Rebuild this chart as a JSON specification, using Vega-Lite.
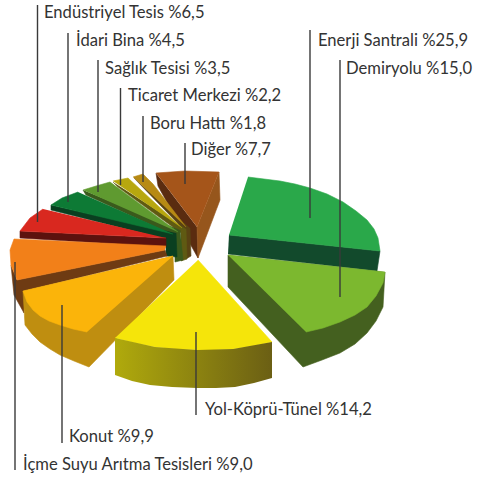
{"$schema":"https://vega.github.io/schema/vega-lite/v6.json","width":479,"height":481,"padding":0,"autosize":{"type":"none"},"background":"white","config":{"view":{"stroke":null}},
"datasets":{
"outline":[
{"p":"01 Diğer yan sol","o":1,"x":156,"y":173},{"p":"01 Diğer yan sol","o":2,"x":158,"y":186},{"p":"01 Diğer yan sol","o":3,"x":198,"y":258},{"p":"01 Diğer yan sol","o":4,"x":197,"y":227},
{"p":"02 Diğer yan sağ","o":1,"x":219,"y":172},{"p":"02 Diğer yan sağ","o":2,"x":220,"y":200},{"p":"02 Diğer yan sağ","o":3,"x":198,"y":258},{"p":"02 Diğer yan sağ","o":4,"x":197,"y":227},
{"p":"03 Diğer üst","o":1,"x":156,"y":173},{"p":"03 Diğer üst","o":2,"x":185,"y":171},{"p":"03 Diğer üst","o":3,"x":219,"y":172},{"p":"03 Diğer üst","o":4,"x":197,"y":227},
{"p":"04 Boru yan","o":1,"x":134,"y":178},{"p":"04 Boru yan","o":2,"x":186,"y":232},{"p":"04 Boru yan","o":3,"x":186,"y":259},{"p":"04 Boru yan","o":4,"x":191,"y":256},{"p":"04 Boru yan","o":5,"x":190,"y":228},
{"p":"05 Boru üst","o":1,"x":133,"y":177},{"p":"05 Boru üst","o":2,"x":143,"y":174},{"p":"05 Boru üst","o":3,"x":153,"y":184},{"p":"05 Boru üst","o":4,"x":186,"y":227},
{"p":"06 Ticaret yan","o":1,"x":113,"y":182},{"p":"06 Ticaret yan","o":2,"x":118,"y":187},{"p":"06 Ticaret yan","o":3,"x":181,"y":233},{"p":"06 Ticaret yan","o":4,"x":181,"y":261},{"p":"06 Ticaret yan","o":5,"x":187,"y":259},{"p":"06 Ticaret yan","o":6,"x":186,"y":229},
{"p":"07 Ticaret üst","o":1,"x":113,"y":181},{"p":"07 Ticaret üst","o":2,"x":128,"y":178},{"p":"07 Ticaret üst","o":3,"x":182,"y":228},
{"p":"08 Sağlık yan","o":1,"x":83,"y":190},{"p":"08 Sağlık yan","o":2,"x":86,"y":195},{"p":"08 Sağlık yan","o":3,"x":175,"y":236},{"p":"08 Sağlık yan","o":4,"x":175,"y":262},{"p":"08 Sağlık yan","o":5,"x":183,"y":260},{"p":"08 Sağlık yan","o":6,"x":180,"y":230},
{"p":"09 Sağlık üst","o":1,"x":83,"y":190},{"p":"09 Sağlık üst","o":2,"x":96,"y":186},{"p":"09 Sağlık üst","o":3,"x":110,"y":182},{"p":"09 Sağlık üst","o":4,"x":178,"y":232},
{"p":"10 İdari yan","o":1,"x":51,"y":205},{"p":"10 İdari yan","o":2,"x":51,"y":210},{"p":"10 İdari yan","o":3,"x":166,"y":239},{"p":"10 İdari yan","o":4,"x":166,"y":256},{"p":"10 İdari yan","o":5,"x":177,"y":257},{"p":"10 İdari yan","o":6,"x":176,"y":233},
{"p":"11 İdari üst","o":1,"x":78,"y":192},{"p":"11 İdari üst","o":2,"x":62,"y":198},{"p":"11 İdari üst","o":3,"x":51,"y":205},{"p":"11 İdari üst","o":4,"x":173,"y":234},
{"p":"12 Endüstriyel yan","o":1,"x":20,"y":231},{"p":"12 Endüstriyel yan","o":2,"x":20,"y":238},{"p":"12 Endüstriyel yan","o":3,"x":166,"y":247},{"p":"12 Endüstriyel yan","o":4,"x":166,"y":238},
{"p":"13 Endüstriyel üst","o":1,"x":43,"y":209},{"p":"13 Endüstriyel üst","o":2,"x":30,"y":218},{"p":"13 Endüstriyel üst","o":3,"x":20,"y":231},{"p":"13 Endüstriyel üst","o":4,"x":166,"y":238},
{"p":"14 İçme yan","o":1,"x":17,"y":280},{"p":"14 İçme yan","o":2,"x":165,"y":250},{"p":"14 İçme yan","o":3,"x":167,"y":256},{"p":"14 İçme yan","o":4,"x":24,"y":291},{"p":"14 İçme yan","o":5,"x":24,"y":313},{"p":"14 İçme yan","o":6,"x":14,"y":295},{"p":"14 İçme yan","o":7,"x":11,"y":265},
{"p":"15 İçme üst","o":1,"x":166,"y":246},{"p":"15 İçme üst","o":2,"x":14,"y":239},{"p":"15 İçme üst","o":3,"x":10,"y":250},{"p":"15 İçme üst","o":4,"x":11,"y":265},{"p":"15 İçme üst","o":5,"x":17,"y":280},{"p":"15 İçme üst","o":6,"x":165,"y":250},
{"p":"16 Konut yan","o":1,"x":23,"y":291},{"p":"16 Konut yan","o":2,"x":25,"y":325},{"p":"16 Konut yan","o":3,"x":32,"y":334},{"p":"16 Konut yan","o":4,"x":40,"y":342},{"p":"16 Konut yan","o":5,"x":50,"y":349},{"p":"16 Konut yan","o":6,"x":60,"y":355},{"p":"16 Konut yan","o":7,"x":74,"y":361},{"p":"16 Konut yan","o":8,"x":89,"y":367},{"p":"16 Konut yan","o":9,"x":174,"y":280},{"p":"16 Konut yan","o":10,"x":173,"y":256},
{"p":"17 Konut üst","o":1,"x":173,"y":256},{"p":"17 Konut üst","o":2,"x":23,"y":291},{"p":"17 Konut üst","o":3,"x":27,"y":302},{"p":"17 Konut üst","o":4,"x":33,"y":310},{"p":"17 Konut üst","o":5,"x":40,"y":316},{"p":"17 Konut üst","o":6,"x":49,"y":321},{"p":"17 Konut üst","o":7,"x":60,"y":325},{"p":"17 Konut üst","o":8,"x":73,"y":329},{"p":"17 Konut üst","o":9,"x":87,"y":332},
{"p":"18 Yol üst","o":1,"x":198,"y":260},{"p":"18 Yol üst","o":2,"x":272,"y":342},{"p":"18 Yol üst","o":3,"x":253,"y":346},{"p":"18 Yol üst","o":4,"x":233,"y":349},{"p":"18 Yol üst","o":5,"x":215,"y":350},{"p":"18 Yol üst","o":6,"x":197,"y":350},{"p":"18 Yol üst","o":7,"x":175,"y":349},{"p":"18 Yol üst","o":8,"x":155,"y":347},{"p":"18 Yol üst","o":9,"x":135,"y":343},{"p":"18 Yol üst","o":10,"x":115,"y":338},
{"p":"19 Enerji yan","o":1,"x":229,"y":235},{"p":"19 Enerji yan","o":2,"x":380,"y":251},{"p":"19 Enerji yan","o":3,"x":377,"y":271},{"p":"19 Enerji yan","o":4,"x":228,"y":254},
{"p":"20 Enerji üst","o":1,"x":248,"y":177},{"p":"20 Enerji üst","o":2,"x":280,"y":181},{"p":"20 Enerji üst","o":3,"x":295,"y":184},{"p":"20 Enerji üst","o":4,"x":310,"y":188},{"p":"20 Enerji üst","o":5,"x":327,"y":194},{"p":"20 Enerji üst","o":6,"x":343,"y":202},{"p":"20 Enerji üst","o":7,"x":356,"y":211},{"p":"20 Enerji üst","o":8,"x":367,"y":220},{"p":"20 Enerji üst","o":9,"x":374,"y":229},{"p":"20 Enerji üst","o":10,"x":378,"y":238},{"p":"20 Enerji üst","o":11,"x":380,"y":251},{"p":"20 Enerji üst","o":12,"x":229,"y":235},
{"p":"21 Demiryolu yan","o":1,"x":228,"y":255},{"p":"21 Demiryolu yan","o":2,"x":228,"y":287},{"p":"21 Demiryolu yan","o":3,"x":303,"y":367},{"p":"21 Demiryolu yan","o":4,"x":322,"y":360},{"p":"21 Demiryolu yan","o":5,"x":340,"y":353},{"p":"21 Demiryolu yan","o":6,"x":355,"y":344},{"p":"21 Demiryolu yan","o":7,"x":367,"y":333},{"p":"21 Demiryolu yan","o":8,"x":376,"y":321},{"p":"21 Demiryolu yan","o":9,"x":383,"y":307},{"p":"21 Demiryolu yan","o":10,"x":385,"y":272},
{"p":"22 Demiryolu üst","o":1,"x":228,"y":255},{"p":"22 Demiryolu üst","o":2,"x":385,"y":272},{"p":"22 Demiryolu üst","o":3,"x":383,"y":283},{"p":"22 Demiryolu üst","o":4,"x":376,"y":296},{"p":"22 Demiryolu üst","o":5,"x":367,"y":307},{"p":"22 Demiryolu üst","o":6,"x":355,"y":315},{"p":"22 Demiryolu üst","o":7,"x":340,"y":322},{"p":"22 Demiryolu üst","o":8,"x":323,"y":328},{"p":"22 Demiryolu üst","o":9,"x":306,"y":332}
],
"yolSide":[{"o":1,"x":115,"y":338},{"o":2,"x":115,"y":375},{"o":3,"x":132,"y":381},{"o":4,"x":150,"y":385},{"o":5,"x":172,"y":387},{"o":6,"x":197,"y":388},{"o":7,"x":216,"y":388},{"o":8,"x":235,"y":387},{"o":9,"x":254,"y":383},{"o":10,"x":272,"y":378},{"o":11,"x":272,"y":342},{"o":12,"x":233,"y":349},{"o":13,"x":197,"y":350},{"o":14,"x":155,"y":347}],
"labels":[
{"label":"Endüstriyel Tesis %6,5","share":6.5,"lineX":37.5,"lineTop":5,"lineBottom":222,"textX":44,"textY":13},
{"label":"İdari Bina %4,5","share":4.5,"lineX":68,"lineTop":33,"lineBottom":202,"textX":76,"textY":41},
{"label":"Sağlık Tesisi %3,5","share":3.5,"lineX":98,"lineTop":60,"lineBottom":192,"textX":105,"textY":69},
{"label":"Ticaret Merkezi %2,2","share":2.2,"lineX":120.5,"lineTop":88,"lineBottom":185,"textX":128,"textY":96},
{"label":"Boru Hattı %1,8","share":1.8,"lineX":143,"lineTop":116,"lineBottom":182,"textX":150,"textY":124},
{"label":"Diğer %7,7","share":7.7,"lineX":185,"lineTop":143,"lineBottom":184,"textX":191,"textY":150},
{"label":"Enerji Santrali %25,9","share":25.9,"lineX":310,"lineTop":30,"lineBottom":218,"textX":318,"textY":41},
{"label":"Demiryolu %15,0","share":15.0,"lineX":340,"lineTop":60,"lineBottom":297,"textX":346,"textY":69},
{"label":"Yol-Köprü-Tünel %14,2","share":14.2,"lineX":196,"lineTop":332,"lineBottom":415,"textX":205,"textY":410},
{"label":"Konut %9,9","share":9.9,"lineX":62,"lineTop":305,"lineBottom":443,"textX":69,"textY":437},
{"label":"İçme Suyu Arıtma Tesisleri %9,0","share":9.0,"lineX":15,"lineTop":262,"lineBottom":470,"textX":23,"textY":465}
]},
"layer":[
{"data":{"name":"outline"},"mark":{"type":"line","strokeWidth":0.6,"interpolate":"linear","strokeJoin":"round"},
"encoding":{
"x":{"field":"x","type":"quantitative","scale":{"domain":[0,479]},"axis":null},
"y":{"field":"y","type":"quantitative","scale":{"domain":[481,0]},"axis":null},
"order":{"field":"o","type":"quantitative"},
"detail":{"field":"p","type":"nominal"},
"fill":{"field":"p","type":"nominal","legend":null,"sort":null,"scale":{"domain":["01 Diğer yan sol","02 Diğer yan sağ","03 Diğer üst","04 Boru yan","05 Boru üst","06 Ticaret yan","07 Ticaret üst","08 Sağlık yan","09 Sağlık üst","10 İdari yan","11 İdari üst","12 Endüstriyel yan","13 Endüstriyel üst","14 İçme yan","15 İçme üst","16 Konut yan","17 Konut üst","18 Yol üst","19 Enerji yan","20 Enerji üst","21 Demiryolu yan","22 Demiryolu üst"],"range":["#5a2c10","#96561c","#a5551a","#5a4313","#b78a14","#5f5a12","#b7a70f","#3a5a1c","#5f9a30","#0a3f20","#0d7a35","#5c120e","#d9281f","#6e3b13","#f28019","#bf8e10","#fbb40a","#f5e50a","#124a2c","#2aa84a","#44601f","#7cb82f"]}},
"stroke":{"field":"p","type":"nominal","legend":null,"sort":null,"scale":{"domain":["01 Diğer yan sol","02 Diğer yan sağ","03 Diğer üst","04 Boru yan","05 Boru üst","06 Ticaret yan","07 Ticaret üst","08 Sağlık yan","09 Sağlık üst","10 İdari yan","11 İdari üst","12 Endüstriyel yan","13 Endüstriyel üst","14 İçme yan","15 İçme üst","16 Konut yan","17 Konut üst","18 Yol üst","19 Enerji yan","20 Enerji üst","21 Demiryolu yan","22 Demiryolu üst"],"range":["#5a2c10","#96561c","#a5551a","#5a4313","#b78a14","#5f5a12","#b7a70f","#3a5a1c","#5f9a30","#0a3f20","#0d7a35","#5c120e","#d9281f","#6e3b13","#f28019","#bf8e10","#fbb40a","#f5e50a","#124a2c","#2aa84a","#44601f","#7cb82f"]}}
}},
{"data":{"name":"yolSide"},"mark":{"type":"line","strokeWidth":0,"fill":{"x1":0,"y1":0,"x2":1,"y2":0,"gradient":"linear","stops":[{"offset":0,"color":"#b0aa0c"},{"offset":1,"color":"#6b5f14"}]}},
"encoding":{"x":{"field":"x","type":"quantitative","scale":{"domain":[0,479]},"axis":null},"y":{"field":"y","type":"quantitative","scale":{"domain":[481,0]},"axis":null},"order":{"field":"o","type":"quantitative"}}},
{"data":{"name":"labels"},"mark":{"type":"rule","color":"#3a3a3a","strokeWidth":1.4},
"encoding":{"x":{"field":"lineX","type":"quantitative","scale":{"domain":[0,479]},"axis":null},"y":{"field":"lineTop","type":"quantitative","scale":{"domain":[481,0]},"axis":null},"y2":{"field":"lineBottom"}}},
{"data":{"name":"labels"},"mark":{"type":"text","align":"left","baseline":"middle","font":"Lato","fontSize":16.6,"color":"#333333"},
"encoding":{"x":{"field":"textX","type":"quantitative","scale":{"domain":[0,479]},"axis":null},"y":{"field":"textY","type":"quantitative","scale":{"domain":[481,0]},"axis":null},"text":{"field":"label","type":"nominal"}}}
]}
